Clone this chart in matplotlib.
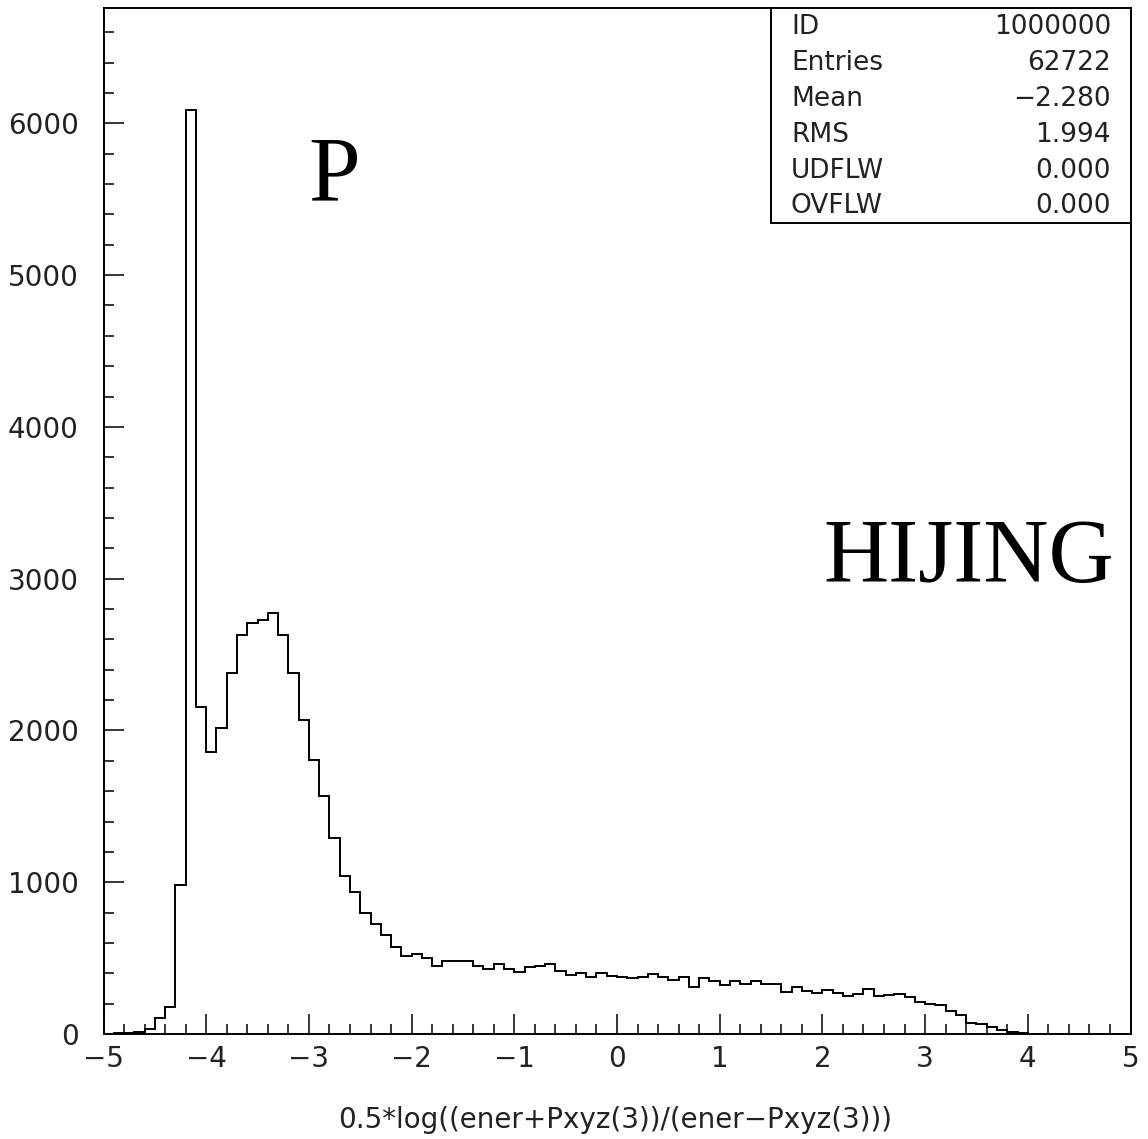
import numpy as np
import matplotlib
matplotlib.use("Agg")
import matplotlib.pyplot as plt
from matplotlib.ticker import MultipleLocator
from matplotlib.patches import Rectangle

# histogram: 100 bins of width 0.1 from -5 to 5
bin_edges = np.linspace(-5, 5, 101)
counts = [
    1, 4, 8, 15, 30, 103, 180, 980, 6090, 2154,
    1855, 2013, 2380, 2631, 2710, 2727, 2771, 2631, 2380, 2068,
    1805, 1567, 1290, 1040, 938, 796, 723, 651, 571, 514,
    525, 503, 448, 484, 481, 481, 451, 426, 459, 426,
    411, 440, 446, 459, 418, 391, 400, 376, 404, 385,
    374, 369, 378, 398, 376, 358, 376, 312, 367, 349,
    325, 347, 327, 347, 332, 332, 277, 312, 281, 270,
    292, 273, 251, 262, 295, 251, 257, 262, 246, 209,
    198, 189, 152, 123, 75, 64, 44, 29, 11, 4,
    2, 0, 0, 0, 0, 0, 0, 0, 0, 0,
]

stat_names = ["ID", "Entries", "Mean", "RMS", "UDFLW", "OVFLW"]
stat_values = ["1000000", "62722", "\u22122.280", "1.994", "0.000", "0.000"]

x_label = "0.5*log((ener+Pxyz(3))/(ener\u2212Pxyz(3)))"

W, H = 1148, 1139
fig = plt.figure(figsize=(W / 100, H / 100), dpi=100)
ax_l, ax_r, ax_b, ax_t = 103.5, 1130.5, 1034, 8
ax = fig.add_axes([ax_l / W, 1 - ax_b / H, (ax_r - ax_l) / W, (ax_b - ax_t) / H])

ax.stairs(counts, bin_edges, color="black", lw=1.4, baseline=0)

ax.set_xlim(-5, 5)
ax.set_ylim(0, 6760)
ax.xaxis.set_major_locator(MultipleLocator(1))
ax.xaxis.set_minor_locator(MultipleLocator(0.2))
ax.yaxis.set_major_locator(MultipleLocator(1000))
ax.yaxis.set_minor_locator(MultipleLocator(200))
ax.tick_params(which="both", direction="in", top=False, right=False,
               width=1.1, color="black", labelsize=20, labelcolor="#222222")
ax.tick_params(which="major", length=14.4)
ax.tick_params(which="minor", length=7.2)
ax.tick_params(axis="y", pad=18)
ax.tick_params(axis="x", pad=8)
for s in ax.spines.values():
    s.set_linewidth(1.4)

def ax_pos(px, py):
    return (px - ax_l) / (ax_r - ax_l), (ax_b - py) / (ax_b - ax_t)

# stats box
bx0, by0 = ax_pos(771, 223)
bx1, by1 = ax_pos(1130.5, 8)
ax.add_patch(Rectangle((bx0, by0), bx1 - bx0, by1 - by0, transform=ax.transAxes,
                       fill=False, edgecolor="black", lw=1.4, clip_on=False))
row_y = [27, 63, 99, 135, 171, 206]
for name, val, ry in zip(stat_names, stat_values, row_y):
    lx, ly = ax_pos(791, ry)
    rx, _ = ax_pos(1111, ry)
    ax.text(lx, ly, name, transform=ax.transAxes, ha="left", va="center",
            fontsize=19, color="#222222")
    ax.text(rx, ly, val, transform=ax.transAxes, ha="right", va="center",
            fontsize=19, color="#222222")

px, py = ax_pos(334, 200)
ax.text(px, py, "P", transform=ax.transAxes, ha="center", va="baseline",
        fontsize=67, family="Liberation Serif")
hx, hy = ax_pos(823, 582)
ax.text(hx, hy, "HIJING", transform=ax.transAxes, ha="left", va="baseline",
        fontsize=65, family="Liberation Serif")

fig.text(615 / W, 1 - 1120 / H, x_label, ha="center", va="center",
         fontsize=20, color="#222222")

fig.savefig("out.png", dpi=100)
